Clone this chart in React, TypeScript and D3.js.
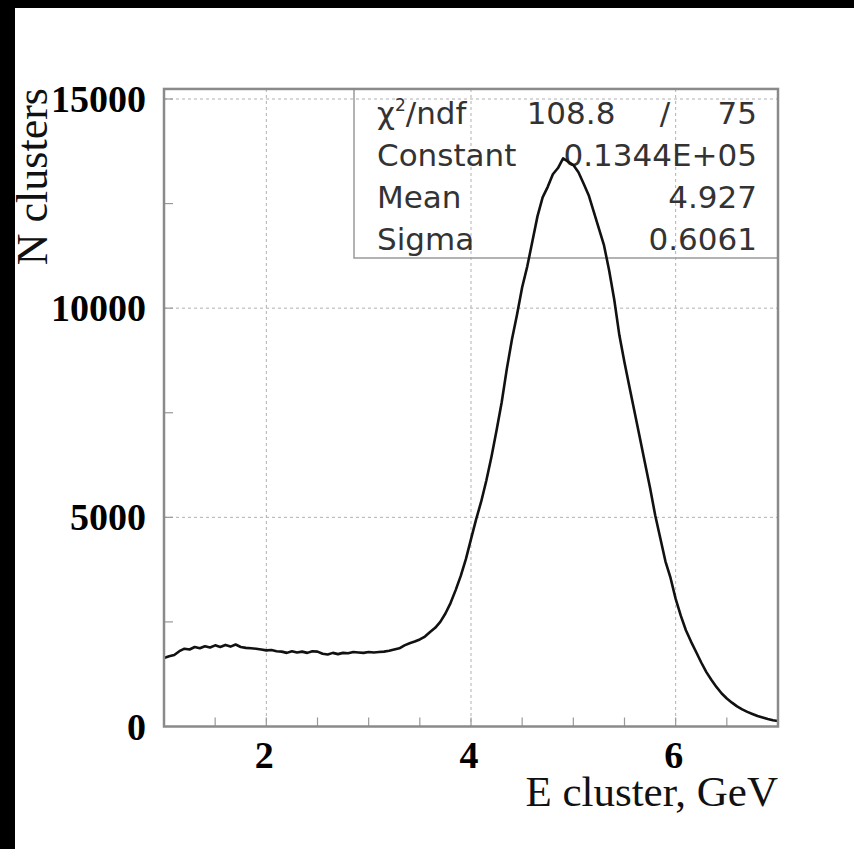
import React from "react";
import * as d3 from "d3";

// Histogram: N clusters per 0.05 GeV step, from E = 1.00 to 7.00 GeV
const binStart = 1.0;
const binWidth = 0.05;
const counts = [
  1640, 1680, 1710, 1800, 1860, 1840, 1900, 1870, 1920, 1890,
  1940, 1900, 1950, 1910, 1960, 1900, 1880, 1870, 1860, 1840,
  1820, 1830, 1800, 1790, 1760, 1800, 1770, 1790, 1760, 1800,
  1790, 1740, 1720, 1760, 1730, 1760, 1750, 1780, 1770, 1760,
  1780, 1770, 1780, 1790, 1810, 1840, 1870, 1940, 1990, 2030,
  2080, 2150, 2260, 2360, 2500, 2700, 2950, 3260, 3600, 4000,
  4480, 4950, 5380, 5880, 6450, 7080, 7750, 8550, 9250, 9850,
  10500, 11000, 11600, 12200, 12650, 12900, 13200, 13350, 13580, 13500,
  13420, 13250, 12980, 12700, 12300, 11900, 11500, 10900, 10200, 9350,
  8700, 8100, 7500, 6900, 6300, 5700, 5050, 4500, 3950, 3550,
  3050, 2650, 2300, 2030, 1780, 1530, 1300, 1110, 940, 790,
  670, 570, 480, 410, 350, 300, 250, 215, 180, 150,
  130,
];

const xTickLabels = [2, 4, 6];
const xMinorTicks = [1.5, 2, 2.5, 3, 3.5, 4, 4.5, 5, 5.5, 6, 6.5];
const yTickLabels = [0, 5000, 10000, 15000];
const yMinorTicks = [2500, 5000, 7500, 10000, 12500, 15000];
const xGrid = [2, 4, 6];
const yGrid = [5000, 10000, 15000];

const statNames = ["χ", "Constant", "Mean", "Sigma"];
const chiValue = "108.8";
const ndfValue = "75";
const statValues = ["", "0.1344E+05", "4.927", "0.6061"];

const xTitle = "E cluster, GeV";
const yTitle = "N clusters";

export default function App() {
  const W = 854;
  const H = 849;
  const left = 164;
  const right = 778;
  const x = d3.scaleLinear().domain([1, 7]).range([left, right]);
  const y = d3.scaleLinear().domain([0, 15000]).range([726.5, 99]);
  const yTop = y(15240);
  const yBot = y(0);

  const line = d3
    .line<number>()
    .x((_, i) => x(binStart + i * binWidth))
    .y((d) => y(d))
    .curve(d3.curveLinear);

  const serif = "'Liberation Serif', 'Times New Roman', serif";
  const sans = "'DejaVu Sans', sans-serif";

  const boxLeft = 354;
  const boxBottom = 258;
  const rowBase = [124, 166, 208, 250];

  return (
    <div style={{ position: "absolute", left: 0, top: 0 }}>
      <svg width={W} height={H} style={{ display: "block" }}>
        <rect x={0} y={0} width={W} height={H} fill="#ffffff" />
        {/* grid */}
        {xGrid.map((g) => (
          <line key={"gx" + g} x1={x(g)} x2={x(g)} y1={yTop} y2={yBot} stroke="#b0b0b0" strokeWidth={1} strokeDasharray="3,3" />
        ))}
        {yGrid.map((g) => (
          <line key={"gy" + g} x1={left} x2={right} y1={y(g)} y2={y(g)} stroke="#b0b0b0" strokeWidth={1} strokeDasharray="3,3" />
        ))}
        {/* ticks */}
        {xMinorTicks.map((t) => (
          <line key={"tx" + t} x1={x(t)} x2={x(t)} y1={yBot} y2={yBot - 9} stroke="#999" strokeWidth={1.2} />
        ))}
        {yMinorTicks.map((t) => (
          <line key={"ty" + t} x1={left} x2={left + 9} y1={y(t)} y2={y(t)} stroke="#999" strokeWidth={1.2} />
        ))}
        {/* stats box */}
        <rect x={boxLeft} y={yTop} width={right - boxLeft} height={boxBottom - yTop} fill="none" stroke="#9a9a9a" strokeWidth={1.5} />
        <g fontFamily={sans} fontSize={31} fill="#333">
          <text x={377} y={rowBase[0]}>
            {statNames[0]}
            <tspan fontSize={17} dy={-13}>2</tspan>
            <tspan dy={13}>/ndf</tspan>
          </text>
          <text x={571} y={rowBase[0]} textAnchor="middle">{chiValue}</text>
          <text x={665} y={rowBase[0]} textAnchor="middle">/</text>
          <text x={757} y={rowBase[0]} textAnchor="end">{ndfValue}</text>
          {statNames.slice(1).map((n, i) => (
            <g key={n}>
              <text x={377} y={rowBase[i + 1]}>{n}</text>
              <text x={757} y={rowBase[i + 1]} textAnchor="end">{statValues[i + 1]}</text>
            </g>
          ))}
        </g>
        {/* histogram */}
        <path d={line(counts) || ""} fill="none" stroke="#111" strokeWidth={2.6} strokeLinejoin="round" />
        {/* frame */}
        <rect x={left} y={yTop} width={right - left} height={yBot - yTop} fill="none" stroke="#8a8a8a" strokeWidth={2.5} />
        {/* tick labels */}
        <g fontFamily={serif} fontWeight="bold" fontSize={38} fill="#000">
          {yTickLabels.map((t) => (
            <text key={"ly" + t} x={146} y={y(t) + 13} textAnchor="end">{t}</text>
          ))}
          {xTickLabels.map((t) => (
            <text key={"lx" + t} x={x(t) - 2} y={768} textAnchor="middle">{t}</text>
          ))}
        </g>
        {/* titles */}
        <text x={778} y={806} textAnchor="end" fontFamily={serif} fontSize={43} fill="#111">{xTitle}</text>
        <text transform={`translate(47,88) rotate(-90)`} textAnchor="end" fontFamily={serif} fontSize={44} fill="#111">{yTitle}</text>
        {/* black scan borders */}
        <rect x={0} y={0} width={W} height={8} fill="#000" />
        <rect x={0} y={0} width={15} height={H} fill="#000" />
      </svg>
    </div>
  );
}
